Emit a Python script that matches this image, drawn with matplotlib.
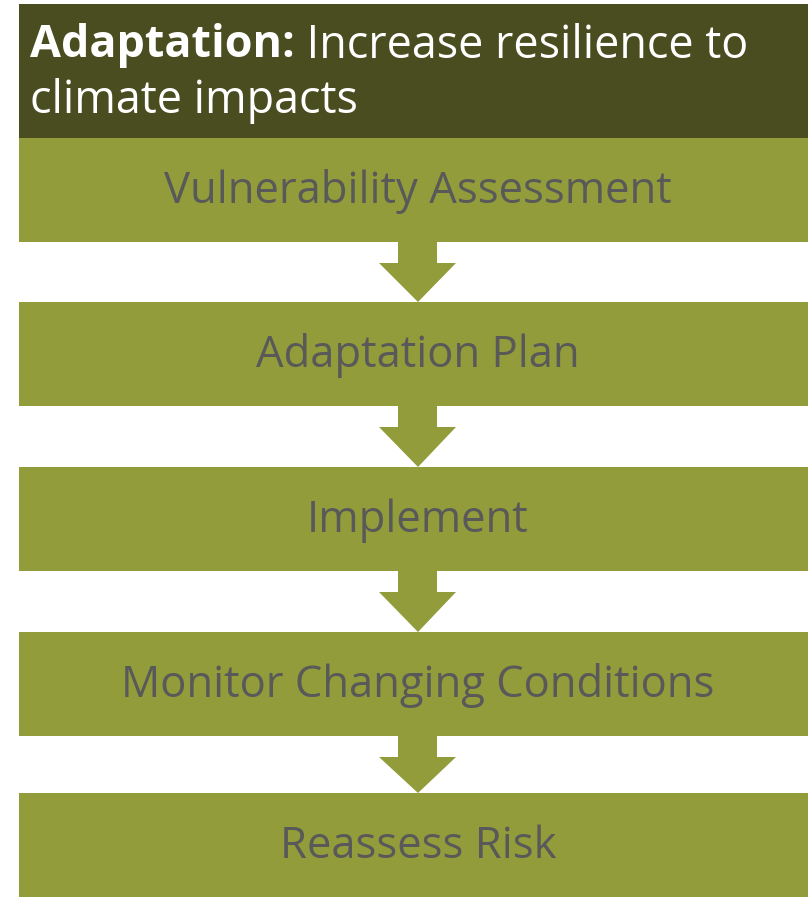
import matplotlib.pyplot as plt
from matplotlib.patches import Rectangle, Polygon

steps = ['Vulnerability Assessment', 'Adaptation Plan', 'Implement',
         'Monitor Changing Conditions', 'Reassess Risk']
title_bold = 'Adaptation:'
title_rest = ' Increase resilience to'
title_line2 = 'climate impacts'

header_color = '#4A4D1F'
box_color = '#939C3B'
text_color = '#595959'
font = 'Open Sans'

fig = plt.figure(figsize=(8.08, 8.98), dpi=100)
ax = fig.add_axes([0, 0, 1, 1])
ax.set_xlim(0, 808)
ax.set_ylim(898, 0)
ax.axis('off')

# header
ax.add_patch(Rectangle((19, 4), 800, 134, color=header_color, lw=0))
t1 = ax.text(30, 46, title_bold, color='white', fontsize=32.3, fontweight='bold',
             family=font, va='center', ha='left')
fig.canvas.draw()
bb = t1.get_window_extent()
x_end = ax.transData.inverted().transform((bb.x1, bb.y0))[0]
ax.text(x_end, 46, title_rest, color='white', fontsize=32.3, family=font,
        va='center', ha='left')
ax.text(30, 101, title_line2, color='white', fontsize=32.3, family=font,
        va='center', ha='left')

# boxes and arrows
box_tops = [138, 302, 467, 632, 793]
box_h = 104
cx = 418
for i, (label, top) in enumerate(zip(steps, box_tops)):
    ax.add_patch(Rectangle((19, top), 800, box_h, color=box_color, lw=0))
    ax.text(cx, top + box_h / 2 + 2, label, color=text_color, fontsize=31.4,
            family=font, ha='center', va='center')
    if i < len(steps) - 1:
        y0 = top + box_h
        y1 = box_tops[i + 1]
        arrow = Polygon([(398, y0), (437, y0), (437, y0 + 21), (456, y0 + 21),
                         (cx, y1), (379, y0 + 21), (398, y0 + 21)],
                        closed=True, color=box_color, lw=0)
        ax.add_patch(arrow)

fig.savefig('out.png', dpi=100)
